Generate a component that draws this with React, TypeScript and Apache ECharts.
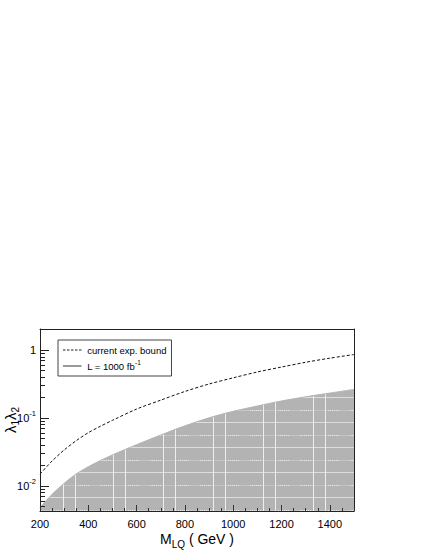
import { useEffect, useRef } from 'react';
import * as echarts from 'echarts';

// Leptoquark mass (GeV)
const massGeV = [200, 250, 300, 350, 400, 450, 500, 600, 700, 800, 900, 1000, 1100, 1200, 1300, 1400, 1500];
// current experimental bound on lambda1*lambda2 (dashed)
const currentBound = [0.015, 0.0234, 0.034, 0.0466, 0.0611, 0.0759, 0.0929, 0.136, 0.184, 0.247, 0.318, 0.392, 0.478, 0.565, 0.664, 0.763, 0.863];
// reach with L = 1000 fb^-1 (upper edge of grey region)
const lumi1000 = [0.00485, 0.00757, 0.011, 0.0151, 0.0193, 0.0238, 0.0288, 0.0407, 0.0565, 0.077, 0.101, 0.126, 0.151, 0.179, 0.206, 0.234, 0.265];

const xLabelValues = [200, 400, 600, 800, 1000, 1200, 1400];
const xMinorValues = [250, 300, 350, 450, 500, 550, 650, 700, 750, 850, 900, 950, 1050, 1100, 1150, 1250, 1300, 1350, 1450, 1500];
const yLabelValues = [0.01, 0.1, 1];
const yMinorValues = [
  0.005, 0.006, 0.007, 0.008, 0.009,
  0.02, 0.03, 0.04, 0.05, 0.06, 0.07, 0.08, 0.09,
  0.2, 0.3, 0.4, 0.5, 0.6, 0.7, 0.8, 0.9, 2,
];

const X_MIN = 200;
const X_MAX = 1500;
const Y_MIN = 0.0043;
const Y_MAX = 2.05;

const FONT = '"Liberation Sans", Arial, Helvetica, sans-serif';

const DASH_ICON = 'path://M0,0h5v2h-5zM8,0h5v2h-5zM16,0h5v2h-5zM24,0h5v2h-5zM32,0h5v2h-5z';
const SOLID_ICON = 'path://M0,0h37v2h-37z';

function makePattern() {
  const c = document.createElement('canvas');
  c.width = 50;
  c.height = 25;
  const g = c.getContext('2d')!;
  g.fillStyle = '#b3b3b3';
  g.fillRect(0, 0, 50, 25);
  // dotted-ish horizontal line
  g.fillStyle = '#c4c4c4';
  g.fillRect(0, 10, 50, 1);
  g.fillStyle = '#e8e8e8';
  for (let x = 0; x < 12; x += 2) g.fillRect(x, 10, 1, 1);
  for (let x = 28; x < 40; x += 2) g.fillRect(x, 10, 1, 1);
  // solid light horizontal line
  g.fillStyle = '#dedede';
  g.fillRect(0, 22, 50, 1);
  // vertical white lines
  g.fillStyle = '#eeeeee';
  g.fillRect(13, 0, 1, 25);
  g.fillRect(25, 0, 1, 25);
  return { image: c.toDataURL(), repeat: 'repeat', imageWidth: 50, imageHeight: 25 };
}

export default function App() {
  const ref = useRef<HTMLDivElement>(null);

  useEffect(() => {
    if (!ref.current) return;
    const chart = echarts.init(ref.current, null, { renderer: 'svg' });

    const supRich = {
      b: { fontSize: 11, lineHeight: 18, color: '#000', fontFamily: FONT },
      e: { fontSize: 7.5, verticalAlign: 'top', lineHeight: 18, color: '#000', fontFamily: FONT },
    };

    const option: any = {
      animation: false,
      backgroundColor: '#ffffff',
      textStyle: { fontFamily: FONT },
      grid: {
        left: 40,
        right: 71,
        top: 329,
        bottom: 39,
        outerBoundsMode: 'none',
      },
      legend: {
        orient: 'vertical',
        left: 58,
        top: 340,
        padding: [5, 5, 5, 5],
        itemGap: 4,
        itemWidth: 20,
        itemHeight: 1,
        backgroundColor: '#ffffff',
        borderColor: '#444',
        borderWidth: 1,
        selectedMode: false,
        textStyle: {
          fontSize: 9.5,
          color: '#000',
          fontFamily: FONT,
          rich: {
            t: { fontSize: 9.5, lineHeight: 14, color: '#000', fontFamily: FONT },
            e: { fontSize: 6.5, lineHeight: 14, verticalAlign: 'top', color: '#000', fontFamily: FONT },
          },
        },
        formatter: (name: string) =>
          name === 'L = 1000 fb-1' ? '{t|L = 1000 fb}{e|-1}' : '{t|' + name + '}',
        data: [
          { name: 'current exp. bound', icon: DASH_ICON, itemStyle: { color: '#222', opacity: 1 } },
          { name: 'L = 1000 fb-1', icon: SOLID_ICON, itemStyle: { color: '#333', opacity: 1 } },
        ],
      },
      xAxis: [
        {
          type: 'value',
          min: X_MIN,
          max: X_MAX,
          position: 'bottom',
          z: 5,
          axisLine: { show: true, lineStyle: { color: '#222', width: 1 } },
          axisTick: { show: true, inside: true, length: 6, customValues: xLabelValues, lineStyle: { color: '#333' } },
          axisLabel: {
            customValues: xLabelValues,
            margin: 7,
            fontSize: 11,
            color: '#000',
            fontFamily: FONT,
            formatter: (v: number) => String(v),
          },
          splitLine: { show: false },
          name: '{m|M}{s|LQ}{m| ( GeV )}',
          nameLocation: 'middle',
          nameGap: 18,
          nameMoveOverlap: false,
          nameTextStyle: {
            rich: {
              m: { fontSize: 14, lineHeight: 20, color: '#000', fontFamily: FONT },
              s: { fontSize: 10, lineHeight: 20, verticalAlign: 'bottom', color: '#000', fontFamily: FONT },
            },
          },
        },
        {
          type: 'value',
          min: X_MIN,
          max: X_MAX,
          position: 'bottom',
          z: 5,
          axisLine: { show: false },
          axisTick: { show: true, inside: true, length: 3, customValues: xMinorValues, lineStyle: { color: '#333' } },
          axisLabel: { show: false },
          splitLine: { show: false },
        },
        {
          type: 'value',
          min: X_MIN,
          max: X_MAX,
          position: 'top',
          z: 5,
          axisLine: { show: true, lineStyle: { color: '#222', width: 1 } },
          axisTick: { show: false },
          axisLabel: { show: false },
          splitLine: { show: false },
        },
      ],
      yAxis: [
        {
          type: 'log',
          logBase: 10,
          min: Y_MIN,
          max: Y_MAX,
          position: 'left',
          z: 5,
          axisLine: { show: true, lineStyle: { color: '#222', width: 1 } },
          axisTick: { show: true, inside: true, length: 9, customValues: yLabelValues, lineStyle: { color: '#222' } },
          axisLabel: {
            customValues: yLabelValues,
            margin: 4,
            formatter: (v: number) => {
              const p = Math.round(Math.log10(v));
              return p === 0 ? '{b|1}' : '{b|10}{e|' + p + '}';
            },
            rich: supRich,
          },
          splitLine: { show: false },
          name: '{l|λ}{s|1}{l|λ}{s|2}',
          nameLocation: 'middle',
          nameGap: 20,
          nameMoveOverlap: false,
          nameRotate: 90,
          nameTextStyle: {
            rich: {
              l: { fontSize: 15, lineHeight: 20, color: '#000', fontFamily: FONT },
              s: { fontSize: 10, lineHeight: 20, verticalAlign: 'bottom', color: '#000', fontFamily: FONT },
            },
          },
        },
        {
          type: 'log',
          logBase: 10,
          min: Y_MIN,
          max: Y_MAX,
          position: 'left',
          z: 5,
          axisLine: { show: false },
          axisTick: { show: true, inside: true, length: 5, customValues: yMinorValues, lineStyle: { color: '#222' } },
          axisLabel: { show: false },
          splitLine: { show: false },
        },
        {
          type: 'log',
          logBase: 10,
          min: Y_MIN,
          max: Y_MAX,
          position: 'right',
          z: 5,
          axisLine: { show: true, lineStyle: { color: '#222', width: 1 } },
          axisTick: { show: false },
          axisLabel: { show: false },
          splitLine: { show: false },
        },
      ],
      series: [
        {
          name: 'L = 1000 fb-1',
          type: 'line',
          xAxisIndex: 0,
          yAxisIndex: 0,
          data: massGeV.map((m, i) => [m, lumi1000[i]]),
          symbol: 'none',
          smooth: 0.3,
          lineStyle: { color: '#b3b3b3', width: 1 },
          itemStyle: { color: '#333' },
          areaStyle: { origin: 'start', color: makePattern(), opacity: 1 },
          z: 2,
        },
        {
          name: 'current exp. bound',
          type: 'line',
          xAxisIndex: 0,
          yAxisIndex: 0,
          data: massGeV.map((m, i) => [m, currentBound[i]]),
          symbol: 'none',
          smooth: 0.3,
          lineStyle: { color: '#111', width: 1, type: [3, 2] },
          itemStyle: { color: '#111' },
          z: 3,
        },
      ],
    };

    chart.setOption(option);
    return () => chart.dispose();
  }, []);

  return (
    <div
      ref={ref}
      style={{ position: 'absolute', left: 0, top: 0, width: 425, height: 550, background: '#fff' }}
    />
  );
}
